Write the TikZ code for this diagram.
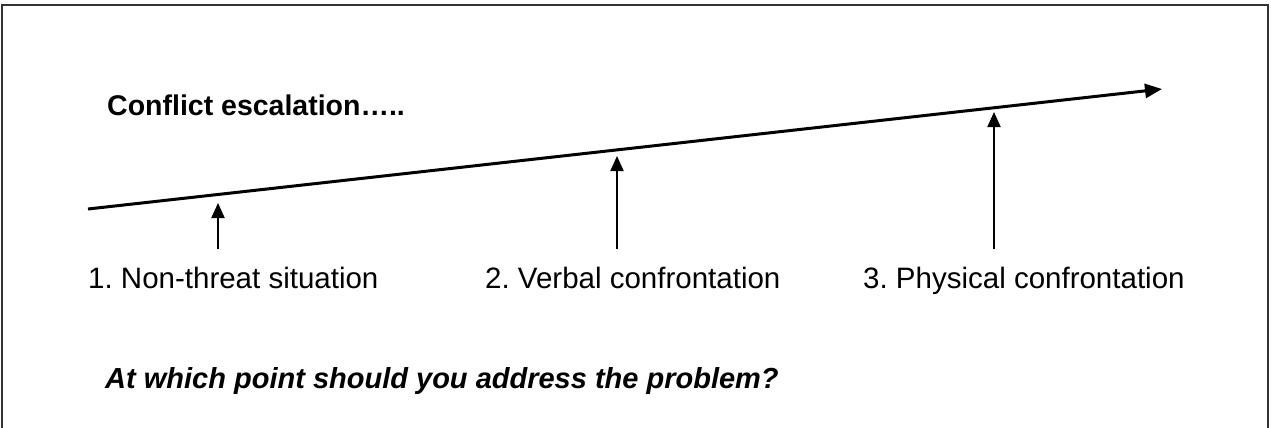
\documentclass[tikz,border=0pt]{standalone}
\usepackage{fontspec}
\setmainfont{Liberation Sans}
\usetikzlibrary{arrows.meta,positioning}

\begin{document}
\frenchspacing
\begin{tikzpicture}[x=1pt,y=-1pt,
  stage/.style={anchor=base west, inner sep=0pt, font=\fontsize{29.5}{36}\selectfont},
  note/.style={anchor=base west, inner sep=0pt, font=\bfseries\fontsize{28.5}{34}\selectfont},
  pointer/.style={line width=2pt, -{Triangle[length=15pt,width=13pt]}}]
\useasboundingbox (0,0) rectangle (1271,428);
% --- frame, open at the bottom ---
\draw[line width=2pt, black!80] (2,440) -- (2,5) -- (1268,5) -- (1268,440);
% --- heading ---
\node[note] (title) at (107,115) {Conflict escalation…..};
% --- escalation line ---
\coordinate (lstart) at (88,209);
\coordinate (lend) at (1162,89);
\draw[line width=3pt, -{Triangle[length=17pt,width=14pt]}] (lstart) -- (lend);
% --- stages ---
\node[stage] (stage1) at (88,288) {1. Non-threat situation};
\node[stage] (stage2) at (485,288) {2. Verbal confrontation};
\node[stage] (stage3) at (863,288) {3. Physical confrontation};
\coordinate (foot1) at (218,249);
\coordinate (tip1) at (218,203);
\coordinate (foot2) at (617,249);
\coordinate (tip2) at (617,156);
\coordinate (foot3) at (994,249);
\coordinate (tip3) at (994,112);
\draw[pointer] (foot1) -- (tip1);
\draw[pointer] (foot2) -- (tip2);
\draw[pointer] (foot3) -- (tip3);
% --- question ---
\node[note, font=\bfseries\itshape\fontsize{29}{34}\selectfont] (question) at (105,388) {At which point should you address the problem?};
\end{tikzpicture}
\end{document}
